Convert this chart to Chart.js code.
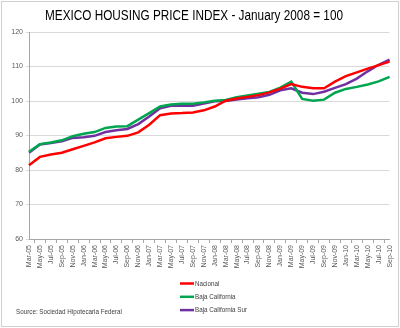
<!DOCTYPE html>
<html>
<head>
<meta charset="utf-8">
<script src="https://cdn.jsdelivr.net/npm/chart.js@4.4.1/dist/chart.umd.min.js"></script>
<style>
  html, body { margin: 0; padding: 0; background: #fff; }
  #wrap { position: relative; width: 400px; height: 328px; }
  #frame { position: absolute; left: 1px; top: 1px; width: 396px; height: 324px; border: 1px solid #d0d0d0; pointer-events: none; }
</style>
</head>
<body>
<div id="wrap">
  <canvas id="hpi" width="400" height="328"></canvas>
  <div id="frame"></div>
</div>
<script>
// Bimonthly categories, Mar-05 .. Sep-10
const labels = [
  'Mar-05','May-05','Jul-05','Sep-05','Nov-05',
  'Jan-06','Mar-06','May-06','Jul-06','Sep-06','Nov-06',
  'Jan-07','Mar-07','May-07','Jul-07','Sep-07','Nov-07',
  'Jan-08','Mar-08','May-08','Jul-08','Sep-08','Nov-08',
  'Jan-09','Mar-09','May-09','Jul-09','Sep-09','Nov-09',
  'Jan-10','Mar-10','May-10','Jul-10','Sep-10'
];

const nacional = [
  81.4, 83.8, 84.5, 85.0, 86.0, 87.0, 88.0, 89.2, 89.6, 89.9, 90.9,
  93.1, 95.9, 96.4, 96.5, 96.7, 97.3, 98.4, 100.1, 100.7, 101.2, 101.7,
  102.5, 103.6, 104.9, 104.1, 103.7, 103.7, 105.6, 107.2, 108.3, 109.4, 110.4, 111.4
];

const bajaCalifornia = [
  85.3, 87.5, 88.0, 88.6, 89.8, 90.5, 91.0, 92.2, 92.6, 92.7, 94.6,
  96.5, 98.4, 99.0, 99.2, 99.2, 99.6, 100.1, 100.3, 101.1, 101.6, 102.1,
  102.6, 103.9, 105.6, 100.6, 100.1, 100.4, 102.4, 103.5, 104.1, 104.8, 105.7, 107.0
];

const bajaCaliforniaSur = [
  85.0, 87.4, 87.8, 88.3, 89.3, 89.5, 89.9, 91.0, 91.5, 91.9, 93.3,
  95.5, 97.9, 98.6, 98.7, 98.6, 99.3, 99.9, 100.0, 100.4, 100.8, 101.1,
  101.8, 103.1, 103.7, 102.4, 102.0, 102.7, 103.8, 104.9, 106.5, 108.6, 110.5, 112.0
];

const seriesNames = ['Nacional', 'Baja California', 'Baja California Sur'];
const seriesColors = ['#ff0000', '#00a550', '#7030a0'];
const yMin = 60, yMax = 120, yStep = 10;

const titleText = 'MEXICO HOUSING PRICE INDEX - January 2008 = 100';
const sourceText = 'Source: Sociedad Hipotecaria Federal';

const FONT = "'Liberation Sans', Arial, sans-serif";

// draw text squeezed/stretched to a given width
function fitText(ctx, text, x, y, size, width, align) {
  ctx.save();
  ctx.font = size + 'px ' + FONT;
  const w = ctx.measureText(text).width;
  const sx = width / w;
  let left = x;
  if (align === 'center') left = x - width / 2;
  ctx.translate(left, y);
  ctx.scale(sx, 1);
  ctx.textAlign = 'left';
  ctx.textBaseline = 'middle';
  ctx.fillText(text, 0, 0);
  ctx.restore();
}

// title, legend and source note drawn on the canvas
const decorations = {
  id: 'decorations',
  afterDraw(chart) {
    const ctx = chart.ctx;
    ctx.fillStyle = '#000';
    fitText(ctx, titleText, 194, 16, 14, 298, 'center');

    ctx.font = '8px ' + FONT;
    const sq = 52 / ctx.measureText('Baja California Sur').width;
    chart.data.datasets.forEach((ds, i) => {
      const y = 283.5 + i * 13.3;
      ctx.save();
      ctx.strokeStyle = ds.borderColor;
      ctx.lineWidth = 2.5;
      ctx.beginPath();
      ctx.moveTo(180, y);
      ctx.lineTo(194, y);
      ctx.stroke();
      ctx.restore();
      ctx.font = '8px ' + FONT;
      ctx.fillStyle = '#404040';
      fitText(ctx, ds.label, 195, y, 8, ctx.measureText(ds.label).width * sq, 'left');
    });

    ctx.fillStyle = '#404040';
    fitText(ctx, sourceText, 16, 312, 8, 106, 'left');
  }
};

const seriesData = [nacional, bajaCalifornia, bajaCaliforniaSur];

new Chart(document.getElementById('hpi').getContext('2d'), {
  type: 'line',
  data: {
    labels: labels,
    datasets: seriesData.map((d, i) => ({
      label: seriesNames[i], data: d,
      borderColor: seriesColors[i], backgroundColor: seriesColors[i],
      borderWidth: 2.5, pointRadius: 0, tension: 0, fill: false
    }))
  },
  options: {
    responsive: false,
    animation: false,
    layout: { padding: { left: 6, right: 8, top: 32, bottom: 57 } },
    plugins: { legend: { display: false }, title: { display: false }, tooltip: { enabled: false } },
    scales: {
      x: {
        offset: false,
        grid: { drawOnChartArea: false, offset: true, tickLength: 4, color: '#a6a6a6' },
        border: { color: '#a6a6a6' },
        ticks: {
          autoSkip: false, minRotation: 90, maxRotation: 90, padding: 2,
          font: { size: 7, family: FONT }, color: '#595959'
        },
        afterFit: (scale) => { scale.height = 32; }
      },
      y: {
        min: yMin, max: yMax,
        grid: { color: '#d9d9d9', tickLength: 3 },
        border: { color: '#a6a6a6' },
        ticks: { stepSize: yStep, padding: 3, font: { size: 7, family: FONT }, color: '#595959' },
        afterFit: (scale) => { scale.width = 23; }
      }
    }
  },
  plugins: [decorations]
});
</script>
</body>
</html>
